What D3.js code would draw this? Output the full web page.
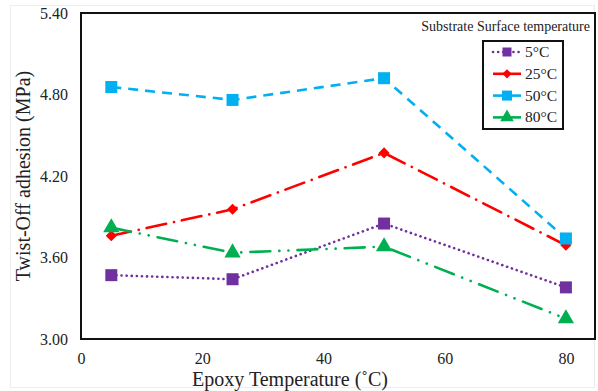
<!DOCTYPE html>
<html>
<head>
<meta charset="utf-8">
<script src="https://cdn.jsdelivr.net/npm/d3@7"></script>
<style>
  body { margin: 0; background: #fff; }
</style>
</head>
<body>
<script>
// data
const epoxyTemps = [5, 25, 50, 80]
const seriesNames = ["5°C", "25°C", "50°C", "80°C"]
const s5 = [3.47, 3.44, 3.85, 3.38]
const s25 = [3.76, 3.955, 4.37, 3.69]
const s50 = [4.855, 4.76, 4.92, 3.74]
const s80 = [3.82, 3.635, 3.68, 3.15]
const xTicks = [0, 20, 40, 60, 80]
const yTicks = [3.0, 3.6, 4.2, 4.8, 5.4]

const FONT = "'Liberation Serif', 'Times New Roman', 'DejaVu Serif', serif"
const W = 598, H = 391
const m = { left: 81, top: 13, right: 595, bottom: 339 }

const svg = d3.select("body").append("svg")
    .attr("width", W)
    .attr("height", H)
    .style("font-family", FONT)

// faint page frame
svg.append("rect")
    .attr("x", 10.5).attr("y", 5.5)
    .attr("width", W - 14).attr("height", H - 9)
    .attr("fill", "none")
    .attr("stroke", "#eee")

const x = d3.scaleLinear().domain([0, 84.8]).range([m.left, m.right])
const y = d3.scaleLinear().domain([3.0, 5.4]).range([m.bottom, m.top])

// plot frame
svg.append("rect")
    .attr("x", m.left).attr("y", m.top)
    .attr("width", m.right - m.left).attr("height", m.bottom - m.top)
    .attr("fill", "none")
    .attr("stroke", "#111")
    .attr("stroke-width", 2)

const xAxis = svg.append("g")
    .attr("transform", `translate(0,${m.bottom})`)
    .call(d3.axisBottom(x).tickValues(xTicks).tickSize(0).tickPadding(14))
xAxis.select(".domain").remove()
xAxis.attr("font-family", null)
xAxis.selectAll("text").style("font-size", "16px").style("font-family", FONT).attr("fill", "#222")

const yAxis = svg.append("g")
    .attr("transform", `translate(${m.left},0)`)
    .call(d3.axisLeft(y).tickValues(yTicks).tickFormat(d3.format(".2f")).tickSize(0).tickPadding(13))
yAxis.select(".domain").remove()
yAxis.attr("font-family", null)
yAxis.selectAll("text").style("font-size", "16px").style("font-family", FONT).attr("fill", "#222")

svg.append("text")
    .attr("transform", `translate(30,${(m.top + m.bottom) / 2}) rotate(-90)`)
    .attr("text-anchor", "middle")
    .style("font-size", "20px")
    .style("font-family", FONT)
    .attr("fill", "#222")
    .text("Twist-Off adhesion (MPa)")

svg.append("text")
    .attr("x", 290).attr("y", 386)
    .attr("text-anchor", "middle")
    .style("font-size", "20px")
    .style("font-family", FONT)
    .attr("fill", "#222")
    .text("Epoxy Temperature (˚C)")

const series = [
    { name: seriesNames[0], vals: s5, color: "#7030a0", dash: "0.1 5", cap: "round", marker: "square" },
    { name: seriesNames[1], vals: s25, color: "#ff0000", dash: "20 8 0.1 8", cap: "round", marker: "diamond" },
    { name: seriesNames[2], vals: s50, color: "#00b0f0", dash: "10 7", cap: "butt", marker: "square" },
    { name: seriesNames[3], vals: s80, color: "#00b050", dash: "20 9 0.1 9 0.1 9", cap: "round", marker: "triangle" }
]

const line = d3.line()
    .x((d, i) => x(epoxyTemps[i]))
    .y(d => y(d))

function marker(g, type, color, cx, cy, size) {
    let sym = type === "square" ? d3.symbolSquare : type === "diamond" ? d3.symbolDiamond2 : d3.symbolTriangle
    let area = type === "square" ? size * size : type === "diamond" ? size * size * 0.55 : size * size * 0.8
    g.append("path")
        .attr("d", d3.symbol(sym, area)())
        .attr("transform", `translate(${cx},${cy})`)
        .attr("fill", color)
}

series.forEach(s => {
    svg.append("path")
        .datum(s.vals)
        .attr("d", line)
        .attr("fill", "none")
        .attr("stroke", s.color)
        .attr("stroke-width", 2.6)
        .attr("stroke-dasharray", s.dash)
        .attr("stroke-linecap", s.cap)
    s.vals.forEach((v, i) => marker(svg, s.marker, s.color, x(epoxyTemps[i]), y(v), 12))
})

// legend
svg.append("text")
    .attr("x", 590).attr("y", 31)
    .attr("text-anchor", "end")
    .style("font-size", "14px")
    .style("font-family", FONT)
    .attr("fill", "#222")
    .text("Substrate Surface temperature")

svg.append("rect")
    .attr("x", 483).attr("y", 41)
    .attr("width", 80).attr("height", 88)
    .attr("fill", "#fff")
    .attr("stroke", "#111")
    .attr("stroke-width", 2)

series.forEach((s, i) => {
    let ly = 52 + i * 21.8
    svg.append("line")
        .attr("x1", 493).attr("x2", 521)
        .attr("y1", ly).attr("y2", ly)
        .attr("stroke", s.color)
        .attr("stroke-width", 2.6)
        .attr("stroke-dasharray", i === 0 ? "0.1 5" : null)
        .attr("stroke-linecap", i === 0 ? "round" : "butt")
    marker(svg, s.marker, s.color, 507, ly, i === 0 ? 9 : 10)
    svg.append("text")
        .attr("x", 525).attr("y", ly + 5)
        .style("font-size", "15.5px")
        .style("font-family", FONT)
        .attr("fill", "#222")
        .text(s.name)
})
</script>
</body>
</html>
